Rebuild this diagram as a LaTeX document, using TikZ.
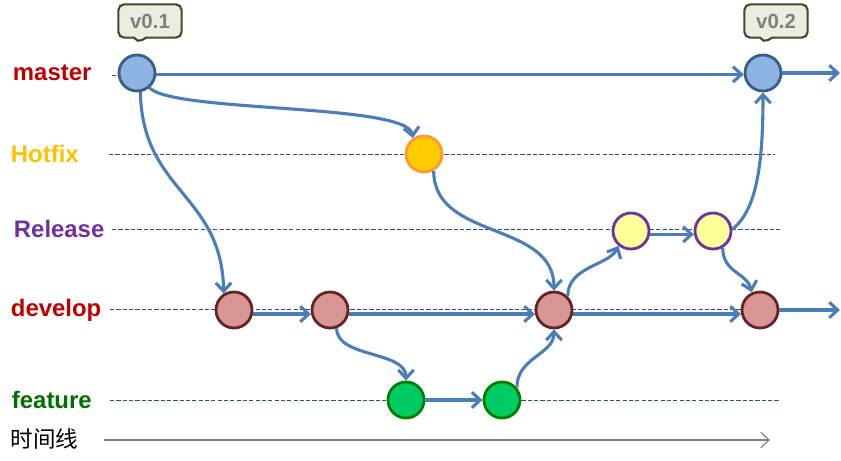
\documentclass[tikz,border=0pt]{standalone}
\usepackage{fontspec}
\setmainfont{Liberation Sans}
\newfontfamily\cjk{Noto Sans CJK SC}
\usetikzlibrary{arrows.meta,shapes.callouts}

\definecolor{linkblue}{HTML}{4A7EBB}
\definecolor{lanedash}{HTML}{2E4F7A}
\definecolor{masterfill}{HTML}{8DB3E2}
\definecolor{masterdraw}{HTML}{385D8A}
\definecolor{hotfixfill}{HTML}{FFCC00}
\definecolor{hotfixdraw}{HTML}{FF9933}
\definecolor{releasefill}{HTML}{FFFF99}
\definecolor{releasedraw}{HTML}{7030A0}
\definecolor{developfill}{HTML}{D99694}
\definecolor{developdraw}{HTML}{632523}
\definecolor{featurefill}{HTML}{00CC66}
\definecolor{featuredraw}{HTML}{008000}
\definecolor{tagfill}{HTML}{EEECE1}
\definecolor{tagdraw}{HTML}{4A452A}
\definecolor{taggray}{HTML}{7F7F7F}
\definecolor{masterred}{HTML}{C00000}
\definecolor{hotfixyellow}{HTML}{FFC000}
\definecolor{featuregreen}{HTML}{006E00}

\begin{document}
\begin{tikzpicture}[x=0.025cm, y=-0.025cm, >={Straight Barb[length=6pt,width=11pt]},
  commit/.style={circle, line width=2pt, minimum size=.9cm, inner sep=0pt},
  mastercommit/.style={commit, draw=masterdraw, fill=masterfill},
  hotfixcommit/.style={commit, draw=hotfixdraw, fill=hotfixfill},
  releasecommit/.style={commit, draw=releasedraw, fill=releasefill},
  developcommit/.style={commit, draw=developdraw, fill=developfill},
  featurecommit/.style={commit, draw=featuredraw, fill=featurefill},
  link/.style={->, draw=linkblue, line width=2.2pt},
  lane/.style={draw=lanedash, dash pattern=on 3pt off 1.5pt, line width=.6pt},
  branch/.style={anchor=west, font=\fontsize{17}{20}\selectfont\bfseries},
  tag/.style={rectangle callout, rounded corners=4pt, draw=tagdraw, fill=tagfill,
    line width=1.5pt, text=taggray, font=\fontsize{14.5}{16}\selectfont\bfseries,
    minimum width=1.58cm, minimum height=.83cm, callout pointer width=.3cm}]
\useasboundingbox (0,0) rectangle (841,460);

% lanes
\draw[lane] (112,75) -- (760,75);
\draw[lane] (109,154) -- (775,154);
\draw[lane] (112,229) -- (780,229);
\draw[lane] (110,309) -- (780,309);
\draw[lane] (110,400) -- (780,400);

\node[branch, text=masterred] (lmaster) at (8,73) {master};
\node[branch, text=hotfixyellow] (lhotfix) at (6,154) {Hotfix};
\node[branch, text=releasedraw] (lrelease) at (9,229) {Release};
\node[branch, text=masterred] (ldevelop) at (6,310) {develop};
\node[branch, text=featuregreen] (lfeature) at (7,400) {feature};
\node[anchor=west, font=\cjk\fontsize{16}{18}\selectfont] (ltime) at (6,439) {时间线};

% commits
\node [mastercommit] (m1) at (137,73) {};
\node [mastercommit] (m2) at (763,73) {};
\node [hotfixcommit] (h1) at (424,154) {};
\node [releasecommit] (r1) at (631,231) {};
\node [releasecommit] (r2) at (713,231) {};
\node [developcommit] (d1) at (234,310) {};
\node [developcommit] (d2) at (330,310) {};
\node [developcommit] (d3) at (554,310) {};
\node [developcommit] (d4) at (760,310) {};
\node [featurecommit] (f1) at (406,400) {};
\node [featurecommit] (f2) at (502,400) {};
\coordinate (mEnd) at (840,73);
\coordinate (dEnd) at (840,310);
\coordinate (tStart) at (104,440);
\coordinate (tEnd) at (770,440);

% tags
\node[tag, callout absolute pointer={(137,43)}] (v1) at (150,21) {v0.1};
\node[tag, callout absolute pointer={(763,43)}] (v2) at (776,21) {v0.2};

\draw[link] (m1.-4) -- (m2.184);
\draw[link] (m2) -- (mEnd);
\draw[link] (m1.-50) .. controls +(25,25) and +(-5,-35) .. (h1.125);
\draw[link] (m1.-80) .. controls +(2,100) and +(-2,-100) .. (d1.122);
\draw[link] (d1.-12) -- (d2.192);
\draw[link] (d2.-12) -- (d3.192);
\draw[link] (d2.-70) .. controls +(0,30) and +(0,-30) .. (f1.north);
\draw[link] (f1) -- (f2);
\draw[link] (f2.40) .. controls +(0,-30) and +(0,25) .. (d3.south);
\draw[link] (h1.-60) .. controls +(0,70) and +(0,-70) .. (d3.north);
\draw[link] (d3.45) .. controls +(0,-30) and +(-10,20) .. (r1.-130);
\draw[link] (r1.-10) -- (r2.190);
\draw[link] (r2.-60) .. controls +(0,25) and +(-5,-20) .. (d4.115);
\draw[link] (r2.5) .. controls +(25,-20) and +(0,70) .. (m2.south);
\draw[link] (d3.-12) -- (d4.192);
\draw[link] (d4) -- (dEnd);

\draw[->, gray, line width=.8pt] (tStart) -- (tEnd);
\end{tikzpicture}
\end{document}
